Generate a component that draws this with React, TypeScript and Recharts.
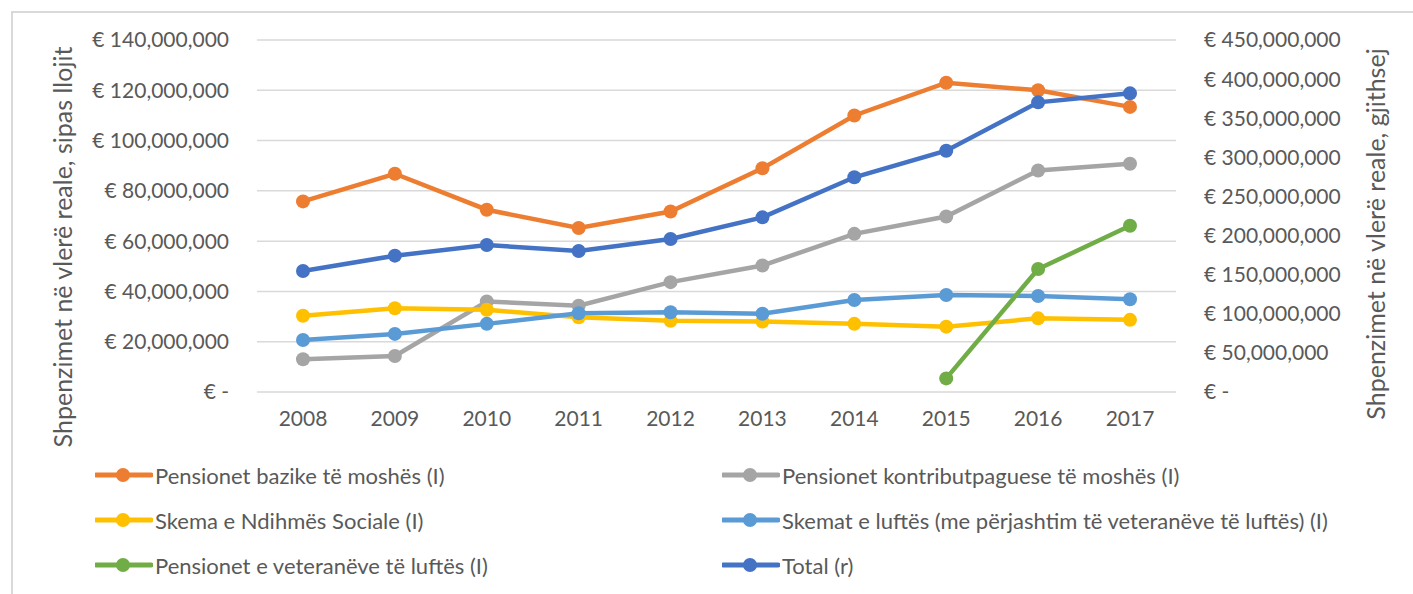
import React from 'react';
import { LineChart, Line, XAxis, YAxis, CartesianGrid } from 'recharts';

// ============================================
// DATA
// ============================================

const years = ['2008', '2009', '2010', '2011', '2012', '2013', '2014', '2015', '2016', '2017'];

const basicOldAge = [75.8, 86.8, 72.5, 65.2, 71.8, 89.0, 110.0, 123.0, 120.0, 113.4];
const contributoryOldAge = [13.0, 14.3, 36.0, 34.3, 43.7, 50.3, 62.9, 69.8, 88.1, 90.8];
const socialAssistance = [30.3, 33.3, 32.7, 29.7, 28.3, 28.0, 27.1, 26.0, 29.3, 28.7];
const warSchemes = [20.7, 23.1, 27.1, 31.3, 31.7, 31.1, 36.6, 38.6, 38.2, 36.9];
const warVeterans = [null, null, null, null, null, null, null, 5.4, 48.9, 66.1];
const total = [154.7, 174.3, 187.9, 180.3, 195.6, 223.3, 274.5, 308.5, 370.3, 381.8];

const leftTicks = [0, 20e6, 40e6, 60e6, 80e6, 100e6, 120e6, 140e6];
const rightTicks = [0, 50e6, 100e6, 150e6, 200e6, 250e6, 300e6, 350e6, 400e6, 450e6];

const M = 1e6;
const data = years.map((year, i) => ({
  year,
  basic: basicOldAge[i] * M,
  contrib: contributoryOldAge[i] * M,
  social: socialAssistance[i] * M,
  war: warSchemes[i] * M,
  veterans: warVeterans[i] == null ? null : (warVeterans[i] as number) * M,
  total: total[i] * M,
}));

const series = [
  { key: 'basic', name: 'Pensionet bazike të moshës (I)', color: '#ED7D31', axis: 'left' },
  { key: 'contrib', name: 'Pensionet kontributpaguese të moshës (I)', color: '#A5A5A5', axis: 'left' },
  { key: 'social', name: 'Skema e Ndihmës Sociale (I)', color: '#FFC000', axis: 'left' },
  { key: 'war', name: 'Skemat e luftës (me përjashtim të veteranëve të luftës) (I)', color: '#5B9BD5', axis: 'left' },
  { key: 'veterans', name: 'Pensionet e veteranëve të luftës (I)', color: '#70AD47', axis: 'left' },
  { key: 'total', name: 'Total (r)', color: '#4472C4', axis: 'right' },
];

const FONT = 'Lato, "Open Sans", sans-serif';
const TEXT = '#595959';
const TICK_SIZE = 21;

const euro = (v: number) => (v === 0 ? '€ -' : '€ ' + v.toLocaleString('en-US'));

// legend drawn below the plot, two columns, three rows
const LegendBox = () => (
  <div style={{ position: 'absolute', left: 95, top: 460, width: 1300, height: 140, fontFamily: FONT }}>
    {series.map((s, i) => {
      const col = i % 2;
      const row = Math.floor(i / 2);
      return (
        <div
          key={s.key}
          style={{
            position: 'absolute',
            left: col === 0 ? 0 : 627,
            top: row * 45,
            display: 'flex',
            alignItems: 'center',
            height: 30,
          }}
        >
          <svg width={58} height={20}>
            <line x1={1} y1={10} x2={56} y2={10} stroke={s.color} strokeWidth={5} strokeLinecap="round" />
            <circle cx={28} cy={10} r={7} fill={s.color} />
          </svg>
          <span style={{ fontSize: 22, color: TEXT, marginLeft: 2, whiteSpace: 'nowrap' }}>{s.name}</span>
        </div>
      );
    })}
  </div>
);

const titleStyle: React.CSSProperties = {
  position: 'absolute',
  transform: 'translate(-50%, -50%) rotate(-90deg)',
  fontFamily: FONT,
  fontSize: 25,
  color: TEXT,
  whiteSpace: 'nowrap',
};

export default function App() {
  return (
    <div style={{ position: 'absolute', left: 0, top: 0, width: 1413, height: 594, background: '#fff', overflow: 'hidden' }}>
      <div
        style={{
          position: 'absolute',
          left: 11,
          top: 11,
          width: 1420,
          height: 620,
          borderLeft: '2px solid #d9d9d9',
          borderTop: '2px solid #d9d9d9',
        }}
      />
      <LineChart
        width={1413}
        height={594}
        data={data}
        margin={{ top: 40, right: 0, bottom: 172, left: 0 }}
        style={{ position: 'absolute', left: 0, top: 0, fontFamily: FONT }}
      >
        <CartesianGrid vertical={false} stroke="#d9d9d9" strokeWidth={1.5} yAxisId="left" />
        <XAxis
          dataKey="year"
          height={30}
          padding={{ left: 46, right: 46 }}
          axisLine={false}
          tickLine={false}
          tickSize={0}
          tickMargin={19}
          interval={0}
          tick={{ fill: TEXT, fontSize: TICK_SIZE }}
        />
        <YAxis
          yAxisId="left"
          orientation="left"
          width={257}
          domain={[0, 140e6]}
          ticks={leftTicks}
          interval={0}
          tickFormatter={euro}
          axisLine={false}
          tickLine={false}
          tickSize={0}
          tickMargin={28}
          tick={{ fill: TEXT, fontSize: TICK_SIZE }}
        />
        <YAxis
          yAxisId="right"
          orientation="right"
          width={237}
          domain={[0, 450e6]}
          ticks={rightTicks}
          interval={0}
          tickFormatter={euro}
          axisLine={false}
          tickLine={false}
          tickSize={0}
          tickMargin={28}
          tick={{ fill: TEXT, fontSize: TICK_SIZE, textAnchor: 'start' }}
        />
        {series.map((s) => (
          <Line
            key={s.key}
            yAxisId={s.axis}
            dataKey={s.key}
            name={s.name}
            stroke={s.color}
            strokeWidth={4.5}
            dot={{ r: 7, fill: s.color, stroke: s.color, strokeWidth: 0 }}
            isAnimationActive={false}
            type="linear"
          />
        ))}
      </LineChart>
      <LegendBox />
      <div style={{ ...titleStyle, left: 62, top: 247 }}>Shpenzimet në vlerë reale, sipas llojit</div>
      <div style={{ ...titleStyle, left: 1375, top: 234 }}>Shpenzimet në vlerë reale, gjithsej</div>
    </div>
  );
}
